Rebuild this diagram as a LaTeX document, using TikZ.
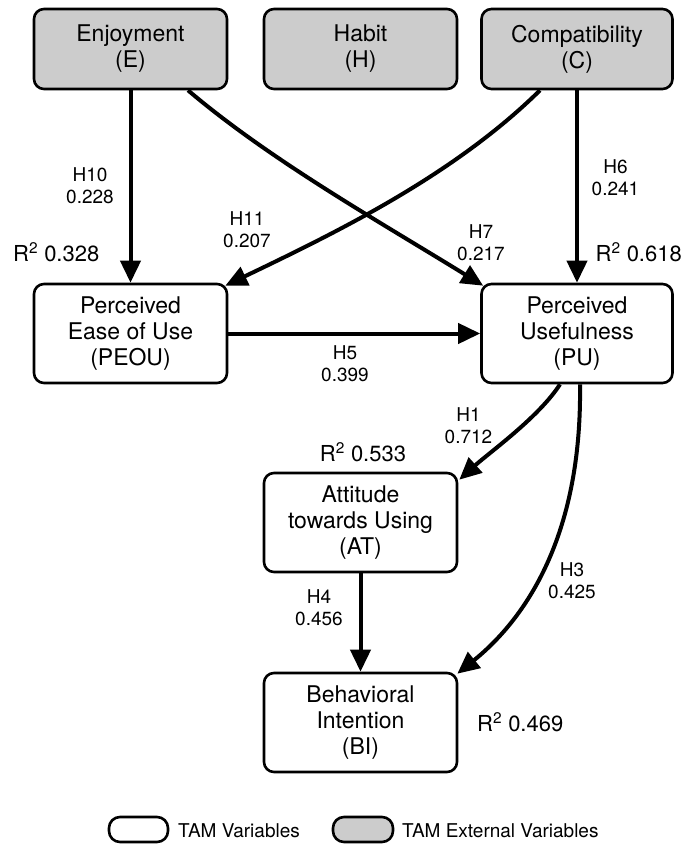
\documentclass[tikz,border=0pt]{standalone}
\usepackage{fontspec}
\setmainfont{TeX Gyre Heros}
\usetikzlibrary{arrows.meta}
\definecolor{extgray}{RGB}{204,204,204}
\begin{document}
\begin{tikzpicture}[x=1pt,y=-1pt,
  var/.style={draw=black, line width=2.6pt, rounded corners=10pt,
    minimum width=193pt, minimum height=99pt, inner sep=0pt,
    align=center, fill=white, font=\fontsize{23}{26}\selectfont},
  extvar/.style={var, fill=extgray, minimum height=80pt},
  link/.style={line width=4pt, -{Triangle[length=22pt,width=20pt]}},
  hyp/.style={align=center, inner sep=0pt, font=\fontsize{19}{22}\selectfont},
  rsq/.style={inner sep=0pt, font=\fontsize{22}{26}\selectfont},
  legbox/.style={draw=black, line width=2.6pt, rounded corners=11pt},
  legtext/.style={inner sep=0pt, anchor=base west, font=\fontsize{19}{22}\selectfont},
]
\fill[white] (0,0) rectangle (686,846);
\useasboundingbox (0,0) rectangle (686,846);

% external variables
\node[extvar] (E) at (130.5,49) {Enjoyment\\(E)};
\node[extvar] (H) at (360.5,49) {Habit\\(H)};
\node[extvar, minimum width=191pt] (C) at (577,49) {Compatibility\\(C)};

% TAM variables
\node[var] (PEOU) at (130.5,333.5) {Perceived\\Ease of Use\\(PEOU)};
\node[var, minimum width=191pt] (PU) at (577,333.5) {Perceived\\Usefulness\\(PU)};
\node[var] (AT) at (360.5,522.5) {Attitude\\towards Using\\(AT)};
\node[var] (BI) at (360.5,722.5) {Behavioral\\Intention\\(BI)};

% paths
\draw[link] (E) -- (PEOU);
\draw[link] (C) -- (PU);
\draw[link] (PEOU) -- (PU);
\draw[link] (AT) -- (BI);
\draw[link] ([xshift=57.5pt]E.south) .. controls (270,160) and (380,222) .. ([shift={(3,3)}]PU.north west);
\draw[link] ([xshift=-37pt]C.south) .. controls (453,176) and (335,233) .. ([shift={(-3,3)}]PEOU.north east);
\draw[link] ([xshift=-17pt]PU.south) .. controls (539,417) and (490,452) .. ([shift={(1,8)}]AT.north east);
\draw[link] ([xshift=3pt]PU.south) .. controls (582,530) and (530,615) .. ([shift={(-1,2)}]BI.north east);

% path coefficients
\node[hyp] (h10) at (90,186) {H10\\0.228};
\node[hyp] (h11) at (247,229.5) {H11\\0.207};
\node[hyp] (h7) at (481,242.5) {H7\\0.217};
\node[hyp] (h6) at (615.5,178) {H6\\0.241};
\node[hyp] (h5) at (345,364) {H5\\0.399};
\node[hyp] (h1) at (468.5,425.5) {H1\\0.712};
\node[hyp] (h4) at (319,607.5) {H4\\0.456};
\node[hyp] (h3) at (572,580.5) {H3\\0.425};

% explained variance
\node[rsq, anchor=base west] (r1) at (13,261) {R\textsuperscript{2} 0.328};
\node[rsq, anchor=base east] (r2) at (682,261) {R\textsuperscript{2} 0.618};
\node[rsq, anchor=base] (r3) at (363,461) {R\textsuperscript{2} 0.533};
\node[rsq, anchor=base west] (r4) at (477,731) {R\textsuperscript{2} 0.469};

% legend
\draw[legbox, fill=white] (109,817) rectangle (168,842);
\node[legtext] (l1) at (178,837) {TAM Variables};
\draw[legbox, fill=extgray] (333,817) rectangle (393,842);
\node[legtext] (l2) at (402,837) {TAM External Variables};
\end{tikzpicture}
\end{document}
